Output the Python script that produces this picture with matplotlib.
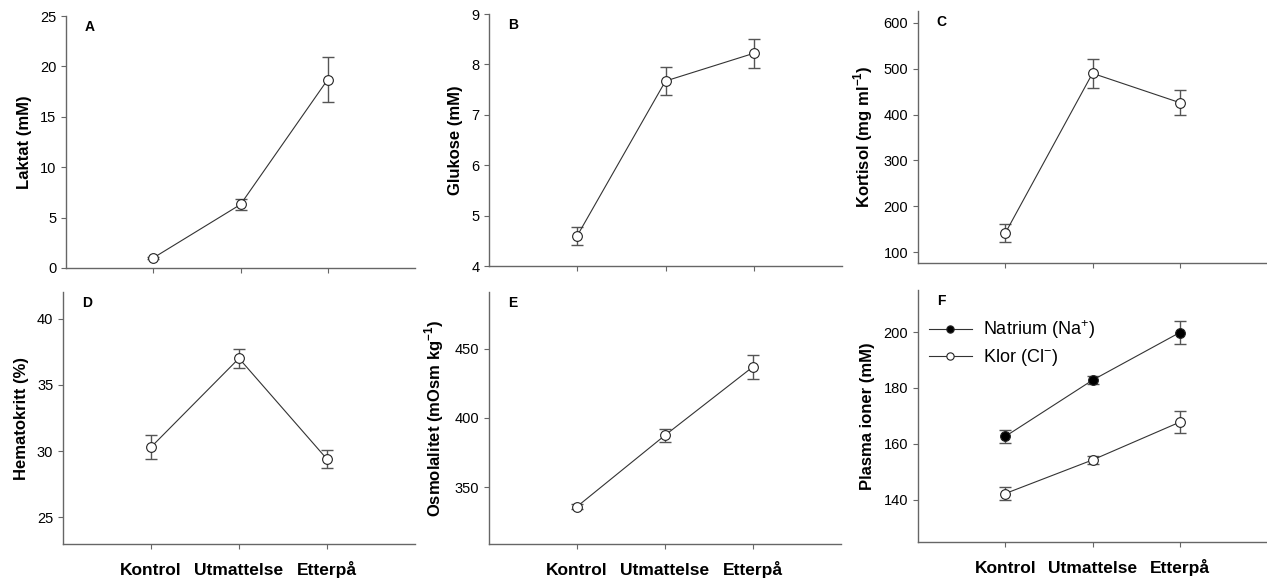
import numpy as np
import matplotlib.pyplot as plt

plt.rcParams['font.family'] = ['Liberation Sans', 'DejaVu Sans']
plt.rcParams['mathtext.fontset'] = 'custom'
plt.rcParams['mathtext.rm'] = 'Liberation Sans'
plt.rcParams['mathtext.bf'] = 'Liberation Sans:bold'

groups = ['Kontrol', 'Utmattelse', 'Etterpå']

laktat = [1.0, 6.3, 18.7]
laktat_err = [0.12, 0.5, 2.2]
glukose = [4.6, 7.67, 8.22]
glukose_err = [0.18, 0.28, 0.29]
kortisol = [141, 490, 426]
kortisol_err = [20, 32, 28]
hematokritt = [30.3, 37.0, 29.4]
hematokritt_err = [0.9, 0.7, 0.65]
osmolalitet = [336, 387.5, 437]
osmolalitet_err = [2.0, 4.5, 8.5]
natrium = [162.7, 182.8, 199.8]
natrium_err = [2.2, 1.5, 4.0]
klor = [142.3, 154.3, 167.8]
klor_err = [2.3, 1.5, 4.0]

W, H = 1267, 579
fig = plt.figure(figsize=(W / 100, H / 100), dpi=100)


def make_ax(l, r, t, b):
    return fig.add_axes([l / W, 1 - b / H, (r - l) / W, (b - t) / H])


spine_col = '#666666'
line_col = '#333333'
err_col = '#555555'


def style(ax, ylim, yticks, ylabel, letter, bottom_row):
    ax.set_xlim(-1, 3)
    ax.set_ylim(*ylim)
    ax.set_yticks(yticks)
    ax.set_xticks(range(len(groups)))
    for s in ['top', 'right']:
        ax.spines[s].set_visible(False)
    for s in ['left', 'bottom']:
        ax.spines[s].set_color(spine_col)
        ax.spines[s].set_linewidth(1.0)
    ax.tick_params(axis='both', direction='out', length=3.5, width=0.8,
                   color=spine_col, labelsize=10.5, labelcolor='black')
    if bottom_row:
        ax.set_xticklabels(groups, fontsize=12.5, fontweight='bold',
                           va='baseline')
        ax.tick_params(axis='x', pad=18.5)
    else:
        ax.set_xticklabels([])
    ax.set_ylabel(ylabel, fontsize=12, fontweight='bold', labelpad=6)
    ax.text(0.054, 0.985, letter, transform=ax.transAxes, fontsize=10,
            fontweight='bold', va='top', ha='left')


def series(ax, y, err, filled=False, label=None):
    x = np.arange(len(y))
    ax.errorbar(x, y, yerr=err, fmt='none', ecolor=err_col, elinewidth=1.0,
                capsize=4, capthick=1.0, zorder=2)
    ax.plot(x, y, '-', color=line_col, lw=0.8, marker='o', markersize=7,
            markerfacecolor='black' if filled else 'white',
            markeredgecolor='#222222', markeredgewidth=0.8, zorder=3,
            label=label)


axA = make_ax(66, 415, 16, 268)
series(axA, laktat, laktat_err)
style(axA, (0, 25), [0, 5, 10, 15, 20, 25], 'Laktat (mM)', 'A', False)

axB = make_ax(489, 842, 14, 266)
series(axB, glukose, glukose_err)
style(axB, (4, 9), [4, 5, 6, 7, 8, 9], 'Glukose (mM)', 'B', False)

axC = make_ax(918, 1267, 11, 263)
series(axC, kortisol, kortisol_err)
style(axC, (76, 626), [100, 200, 300, 400, 500, 600],
      r'Kortisol (mg ml$^{\mathbf{-1}}$)', 'C', False)

axD = make_ax(63, 415, 292, 544)
series(axD, hematokritt, hematokritt_err)
style(axD, (23, 42), [25, 30, 35, 40], 'Hematokritt (%)', 'D', True)

axE = make_ax(489, 841, 292, 544)
series(axE, osmolalitet, osmolalitet_err)
style(axE, (309, 491), [350, 400, 450],
      r'Osmolalitet (mOsm kg$^{\mathbf{-1}}$)', 'E', True)

axF = make_ax(918, 1267, 290, 542)
series(axF, natrium, natrium_err, filled=True, label=r'Natrium (Na$^{+}$)')
series(axF, klor, klor_err, filled=False, label=r'Klor (Cl$^{-}$)')
style(axF, (125, 215), [140, 160, 180, 200], 'Plasma ioner (mM)', 'F', True)
leg = axF.legend(loc='upper left', bbox_to_anchor=(0.0, 0.93), frameon=False,
                 fontsize=13, handlelength=2.4, markerscale=0.75,
                 handletextpad=0.6, labelspacing=0.35, borderaxespad=0.2)

fig.savefig('out.png', dpi=100)
